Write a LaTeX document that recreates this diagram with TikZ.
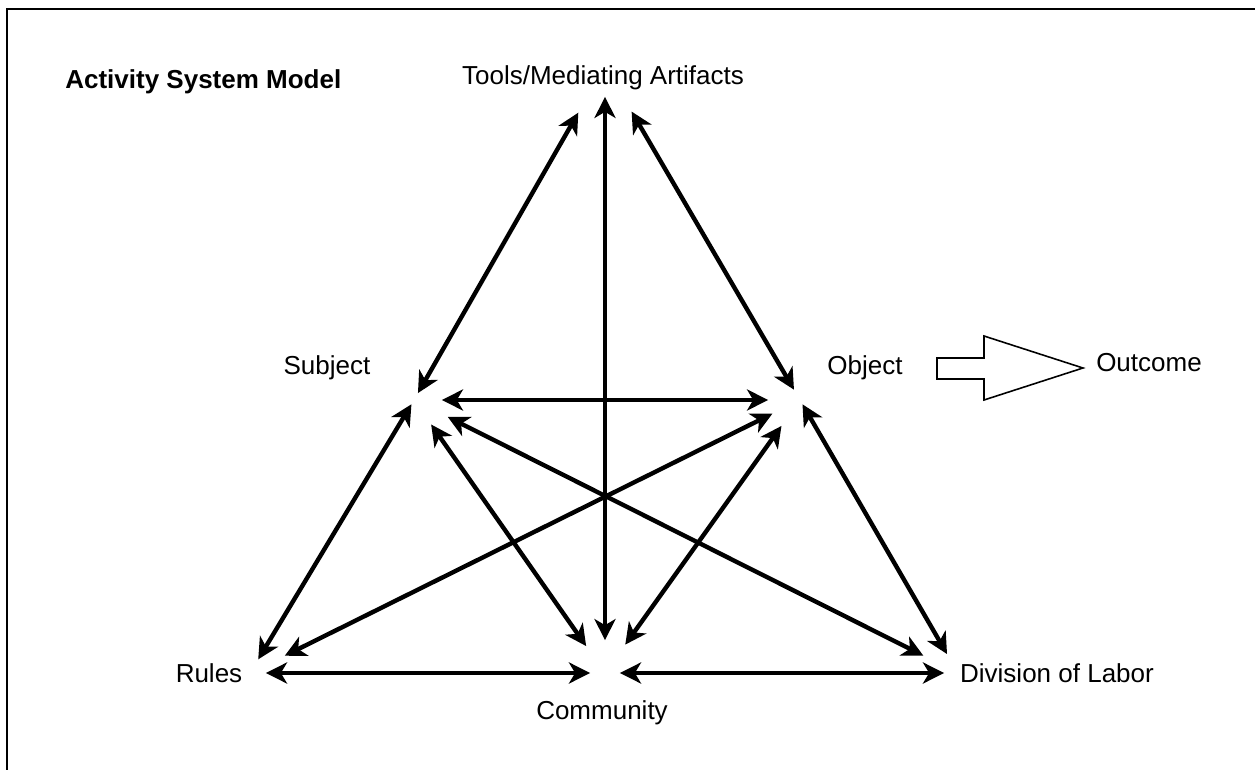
\documentclass[tikz,border=0pt]{standalone}
\usepackage{fontspec}
\setmainfont{Liberation Sans}
\usetikzlibrary{arrows.meta}

\begin{document}
\begin{tikzpicture}[x=0.02cm, y=-0.02cm, >={Stealth[length=12pt, width=12pt, inset=3.5pt]},
  gap/.style 2 args={shorten <=#1*0.5669pt, shorten >=#2*0.5669pt}]

  \tikzstyle{lbl}=[anchor=base, inner sep=0pt, font=\fontsize{14.8}{17}\selectfont]
  \tikzstyle{rel}=[<->, line width=2.5pt]

  \useasboundingbox (0,0) rectangle (1255,770);
  \draw[line width=1.4pt] (7,770) -- (7,9) -- (1255,9);

  % corners of the model
  \coordinate (tools) at (605,66);
  \coordinate (subj) at (414,400);
  \coordinate (obj) at (800,400);
  \coordinate (rules) at (250,673);
  \coordinate (comm) at (605,673);
  \coordinate (div) at (958,673);

  \node[lbl, anchor=base west, font=\fontsize{14.8}{17}\selectfont\bfseries] (title) at (65,89) {Activity System Model};
  \node[lbl] (tools-lbl) at (603,85) {Tools/Mediating Artifacts};
  \node[lbl] (subj-lbl) at (327,375) {Subject};
  \node[lbl] (obj-lbl) at (865,375) {Object};
  \node[lbl] (out-lbl) at (1149,372) {Outcome};
  \node[lbl] (rules-lbl) at (209,682) {Rules};
  \node[lbl] (comm-lbl) at (602,719) {Community};
  \node[lbl] (div-lbl) at (1057,682) {Division of Labor};

  % outcome block arrow
  \draw[line width=0.9pt] (937,358) -- (984,358) -- (984,336) -- (1083,368)
    -- (984,400) -- (984,379) -- (937,379) -- cycle;

  \draw[rel, gap={54}{8}] (tools) -- (subj);
  \draw[rel, gap={31}{33}] (tools) -- (comm);
  \draw[rel, gap={53}{12}] (tools) -- (obj);
  \draw[rel, gap={28}{32}] (subj) -- (obj);
  \draw[rel, gap={5}{16}] (subj) -- (rules);
  \draw[rel, gap={30}{33}] (subj) -- (comm);
  \draw[rel, gap={38}{39}] (subj) -- (div);
  \draw[rel, gap={31}{39}] (obj) -- (rules);
  \draw[rel, gap={32}{35}] (obj) -- (comm);
  \draw[rel, gap={5}{22}] (obj) -- (div);
  \draw[rel, gap={16}{15}] (rules) -- (comm);
  \draw[rel, gap={15}{14}] (comm) -- (div);
\end{tikzpicture}
\end{document}
